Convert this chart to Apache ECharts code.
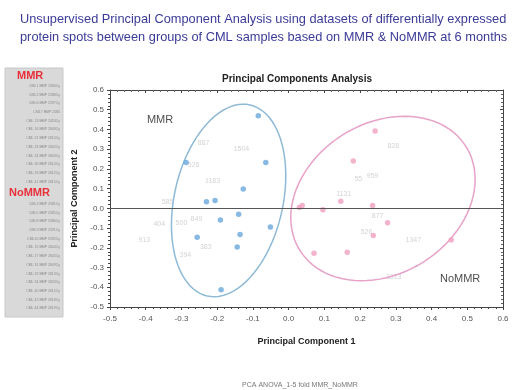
<!DOCTYPE html>
<html>
<head>
<meta charset="utf-8">
<script src="https://cdn.jsdelivr.net/npm/echarts@6/dist/echarts.min.js"></script>
<style>
  html, body { margin: 0; padding: 0; background: #fff; }
  #main { width: 520px; height: 390px; }
</style>
</head>
<body>
<div id="main"></div>
<script>
// scores (PC1, PC2)
var mmrPoints = [
  [-0.085, 0.47], [-0.287, 0.232], [-0.064, 0.233], [-0.127, 0.098],
  [-0.23, 0.034], [-0.206, 0.04], [-0.191, -0.059], [-0.14, -0.03],
  [-0.051, -0.095], [-0.256, -0.146], [-0.136, -0.132], [-0.144, -0.196],
  [-0.189, -0.413]
];
var nommrPoints = [
  [0.242, 0.392], [0.181, 0.24], [0.146, 0.036], [0.235, 0.014],
  [0.096, -0.007], [0.038, 0.015], [0.03, 0.004], [0.277, -0.073],
  [0.237, -0.137], [0.455, -0.161], [0.071, -0.227], [0.164, -0.222]
];
// faint spot numbers (loadings)
var spotLabels = [
  [-0.238, 0.33, '887'], [-0.132, 0.30, '1504'], [-0.266, 0.218, '526'],
  [-0.213, 0.137, '1183'], [-0.339, 0.034, '585'], [-0.362, -0.08, '404'],
  [-0.30, -0.076, '500'], [-0.258, -0.052, '849'], [-0.404, -0.162, '913'],
  [-0.232, -0.198, '383'], [-0.289, -0.235, '394'],
  [0.293, 0.315, '828'], [0.195, 0.147, '55'], [0.235, 0.166, '959'],
  [0.154, 0.07, '1131'], [0.249, -0.041, '877'], [0.218, -0.122, '526'],
  [0.349, -0.159, '1347'], [0.294, -0.347, '1313']
];
var groupLabels = [[-0.36, 0.45, 'MMR'], [0.48, -0.36, 'NoMMR']];
// ellipses: centre x, centre y, half width, half height, tilt term
var ellipses = [
  [-0.168, 0.04, 0.16, 0.488, 0.02],
  [0.264, 0.05, 0.258, 0.417, 0.025]
];
var ellipseColors = ['#8fbad6', '#e7a2c8'];
var xTicks = [-0.5, 0.6, 0.1];
var yTicks = [-0.5, 0.6, 0.1];

var mmrSamples = ['CML1 BMP 2584Cy', 'CML2 BMP 2588Cy', 'CML6 BMP 2597Cy', 'CML7 BMP 2580',
  'CML 13 BMP 2453Cy', 'CML 16 BMP 2608Cy', 'CML 21 BMP 2610Cy', 'CML 23 BMP 2602Cy',
  'CML 24 BMP 2603Cy', 'CML 30 BMP 2614Cy', 'CML 33 BMP 2612Cy', 'CML 41 BMP 2615Cy'];
var nommrSamples = ['CML3 BMP 2581Cy', 'CML5 BMP 2585Cy', 'CML8 BMP 2586Cy', 'CML9 BMP 2591Cy',
  'CML10 BMP 2592Cy', 'CML 15 BMP 2604Cy', 'CML 17 BMP 2605Cy', 'CML 31 BMP 2609Cy',
  'CML 32 BMP 2613Cy', 'CML 34 BMP 2620Cy', 'CML 40 BMP 2615Cy', 'CML 42 BMP 2618Cy',
  'CML 44 BMP 2619Cy'];

var chart = echarts.init(document.getElementById('main'));

// left sample box
var box = [{
  type: 'rect', shape: { x: 5, y: 68, width: 58, height: 249 },
  style: { fill: '#d9d9d9', stroke: '#c8c8c8' }
}, {
  type: 'text', x: 17, y: 70,
  style: { text: 'MMR', fill: '#e8303a', font: 'bold 11px "Liberation Sans"' }
}];
mmrSamples.forEach(function (s, i) {
  box.push({ type: 'text', x: 60, y: 84 + i * 8.7,
    style: { text: s, fill: '#8a8a8a', font: '3.5px "Liberation Sans"', align: 'right' } });
});
box.push({ type: 'text', x: 9, y: 187,
  style: { text: 'NoMMR', fill: '#e8303a', font: 'bold 11px "Liberation Sans"' } });
nommrSamples.forEach(function (s, i) {
  box.push({ type: 'text', x: 60, y: 202 + i * 8.7,
    style: { text: s, fill: '#8a8a8a', font: '3.5px "Liberation Sans"', align: 'right' } });
});

function renderEllipse(params, api) {
  var cx = api.value(0), cy = api.value(1), rx = api.value(2), ry = api.value(3), c = api.value(4);
  var uy = c / rx;
  var vy = Math.sqrt(ry * ry - uy * uy);
  var pts = [];
  for (var k = 0; k < 90; k++) {
    var t = k / 90 * Math.PI * 2;
    pts.push(api.coord([cx + rx * Math.cos(t), cy + uy * Math.cos(t) + vy * Math.sin(t)]));
  }
  return {
    type: 'polygon',
    shape: { points: pts },
    style: { fill: 'none', stroke: ellipseColors[params.dataIndex], lineWidth: 1.5 }
  };
}

var axisCommon = {
  type: 'value',
  axisLine: { show: true, lineStyle: { color: '#444' } },
  splitLine: { show: false },
  minorTick: { show: true, splitNumber: 5, length: 2, lineStyle: { color: '#444' } },
  axisTick: { show: true, length: 3, lineStyle: { color: '#444' } }
};
function fmt(v) { return v.toFixed(1); }

var option = {
  backgroundColor: '#fff',
  animation: false,
  textStyle: { fontFamily: 'Liberation Sans' },
  title: [{
    text: 'Unsupervised Principal Component Analysis using datasets of differentially expressed\nprotein spots between groups of CML samples based on MMR & NoMMR at 6 months',
    left: 15, top: 5,
    textStyle: { fontSize: 12.8, fontWeight: 'normal', color: '#3b3b98', lineHeight: 18, fontFamily: 'Liberation Sans' }
  }, {
    text: 'Principal Components Analysis',
    left: 292, top: 69, textAlign: 'center',
    textStyle: { fontSize: 10, fontWeight: 'bold', color: '#222', fontFamily: 'Liberation Sans' }
  }, {
    text: 'PCA ANOVA_1-5 fold MMR_NoMMR',
    left: 295, top: 377, textAlign: 'center',
    textStyle: { fontSize: 7, fontWeight: 'normal', color: '#777', fontFamily: 'Liberation Sans' }
  }],
  graphic: box,
  grid: { left: 110, right: 17, top: 90, bottom: 83 },
  xAxis: [Object.assign({}, axisCommon, {
    min: xTicks[0], max: xTicks[1], interval: xTicks[2], position: 'bottom',
    axisLine: { show: true, onZero: false, lineStyle: { color: '#444' } },
    axisLabel: { formatter: fmt, fontSize: 8, color: '#555', margin: 8 },
    name: 'Principal Component 1', nameLocation: 'middle', nameGap: 30,
    nameTextStyle: { fontSize: 9, fontWeight: 'bold', color: '#222' }
  }), Object.assign({}, axisCommon, {
    min: xTicks[0], max: xTicks[1], interval: xTicks[2], position: 'top',
    axisLine: { show: true, onZero: false, lineStyle: { color: '#444' } },
    axisTick: { show: true, inside: true, length: 3, lineStyle: { color: '#444' } },
    minorTick: { show: true, splitNumber: 5, length: 2, lineStyle: { color: '#666' } },
    axisLabel: { show: false }
  })],
  yAxis: [Object.assign({}, axisCommon, {
    min: yTicks[0], max: yTicks[1], interval: yTicks[2], position: 'left',
    axisLine: { show: true, onZero: false, lineStyle: { color: '#444' } },
    axisLabel: { formatter: fmt, fontSize: 8, color: '#555', margin: 6 },
    name: 'Principal Component 2', nameLocation: 'middle', nameGap: 25,
    nameTextStyle: { fontSize: 9, fontWeight: 'bold', color: '#222' }
  }), Object.assign({}, axisCommon, {
    min: yTicks[0], max: yTicks[1], interval: yTicks[2], position: 'right',
    axisLine: { show: true, onZero: false, lineStyle: { color: '#444' } },
    axisTick: { show: true, inside: true, length: 3, lineStyle: { color: '#444' } },
    minorTick: { show: true, splitNumber: 5, length: 2, lineStyle: { color: '#666' } },
    axisLabel: { show: false }
  })],
  series: [{
    type: 'scatter', name: 'spots', symbolSize: 0,
    data: spotLabels,
    label: { show: true, formatter: function (p) { return p.data[2]; },
      position: 'inside', fontSize: 7, color: '#c8c8c8' },
    silent: true, z: 1
  }, {
    type: 'custom', name: 'ellipses', renderItem: renderEllipse,
    data: ellipses, silent: true, z: 2
  }, {
    type: 'scatter', name: 'MMR', data: mmrPoints, symbolSize: 5.5,
    itemStyle: { color: '#6aa7dc' }, z: 3,
    markLine: {
      silent: true, symbol: 'none', label: { show: false },
      lineStyle: { color: '#555', type: 'solid', width: 1 },
      data: [{ yAxis: 0 }]
    }
  }, {
    type: 'scatter', name: 'NoMMR', data: nommrPoints, symbolSize: 5.5,
    itemStyle: { color: '#f0a0c0' }, z: 3
  }, {
    type: 'scatter', name: 'groups', symbolSize: 0, data: groupLabels,
    label: { show: true, formatter: function (p) { return p.data[2]; },
      position: 'inside', fontSize: 11, color: '#222' },
    silent: true, z: 4
  }]
};
chart.setOption(option);
</script>
</body>
</html>
